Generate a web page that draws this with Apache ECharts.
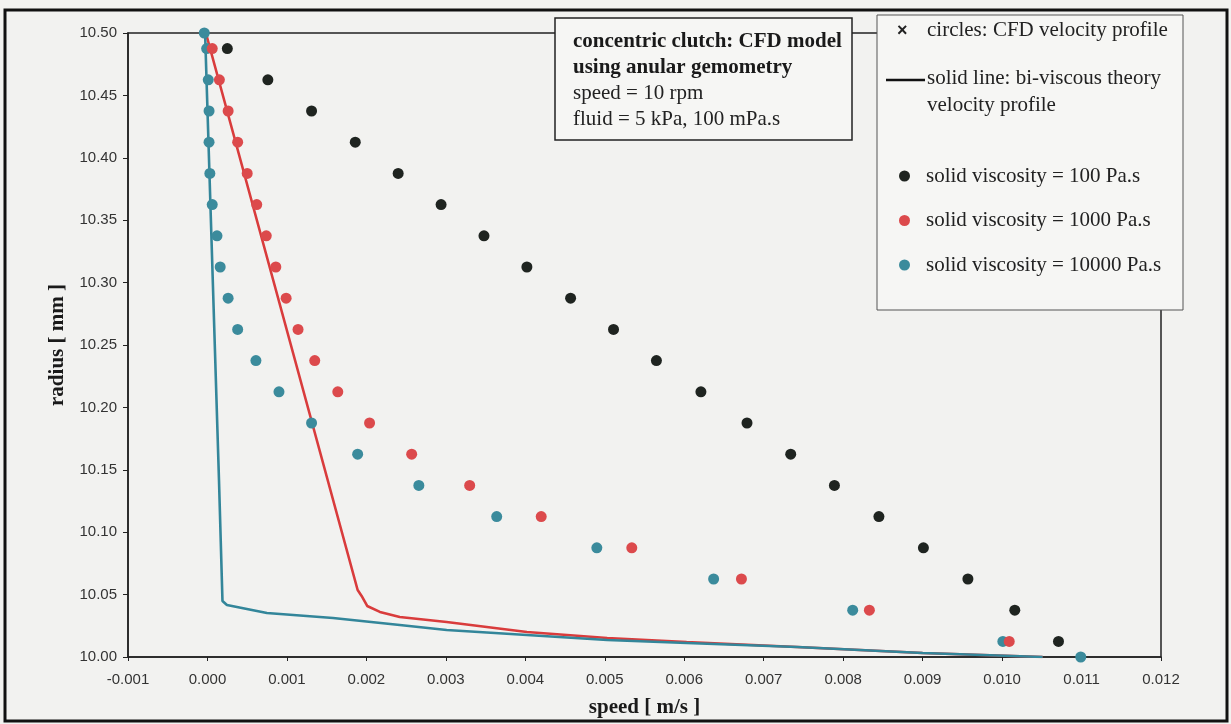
<!DOCTYPE html>
<html>
<head>
<meta charset="utf-8">
<script src="https://cdn.jsdelivr.net/npm/echarts@6/dist/echarts.min.js"></script>
<style>
html,body{margin:0;padding:0;background:#f2f2f0;}
#chart{width:1231px;height:724px;}
</style>
</head>
<body>
<div id="chart"></div>
<script>
// radii [mm] of the CFD sample points
const radii = [10.4875,10.4625,10.4375,10.4125,10.3875,10.3625,10.3375,10.3125,10.2875,10.2625,
               10.2375,10.2125,10.1875,10.1625,10.1375,10.1125,10.0875,10.0625,10.0375,10.0125];
// CFD speeds [m/s]
const cfd100 = [0.00025,0.00076,0.00131,0.00186,0.00240,0.00294,0.00348,0.00402,0.00457,0.00511,
                0.00565,0.00621,0.00679,0.00734,0.00789,0.00845,0.00901,0.00957,0.01016,0.01071];
const cfd1000 = [0.00006,0.00015,0.00026,0.00038,0.00050,0.00062,0.00074,0.00086,0.00099,0.00114,
                 0.00135,0.00164,0.00204,0.00257,0.00330,0.00420,0.00534,0.00672,0.00833,0.01009];
const radii10000 = [10.5].concat(radii).concat([10.0]);
const cfd10000 = [-0.00004,-0.00001,0.00001,0.00002,0.00002,0.00003,0.00006,0.00012,0.00016,0.00026,0.00038,
                  0.00061,0.00090,0.00131,0.00189,0.00266,0.00364,0.00490,0.00637,0.00812,0.01001,0.01099];
// bi-viscous theory profiles: radius and speed
const theory1000R = [10.5,10.0537,10.0489,10.0409,10.0361,10.0321,10.0280,10.0200,10.0152,10.0120,10.0080,10.0032,10.0];
const theory1000V = [-0.00002,0.00189,0.00194,0.00201,0.00217,0.00242,0.00301,0.00402,0.00503,0.00603,0.00742,0.00900,0.01051];
const theory10000R = [10.5,10.1418,10.0449,10.0417,10.0353,10.0313,10.0256,10.0216,10.0176,10.0136,10.0112,10.0080,10.0032,10.0];
const theory10000V = [-0.00003,0.000145,0.000189,0.000245,0.000748,0.00158,0.00242,0.00301,0.00402,0.00503,0.00603,0.00742,0.00900,0.01051];

const xTicks = {min:-0.001, max:0.012, interval:0.001};
const yTicks = {min:10.0, max:10.5, interval:0.05};

const pair = (v, r) => v.map((x, i) => [x, r[i]]);

const BLACK = '#1f2420', RED = '#dc4a4c', TEAL = '#3b8b9c';
const REDLINE = '#d93c3c', TEALLINE = '#33869a';
const serif = '"Liberation Serif","Times New Roman",serif';
const sans = '"Liberation Sans",Arial,sans-serif';

const chart = echarts.init(document.getElementById('chart'));
chart.setOption({
  backgroundColor: '#f2f2f0',
  animation: false,
  grid: {left: 128, top: 33, right: 70, bottom: 67, containLabel: false, outerBoundsMode: 'none',
         show: true, borderColor: '#222', borderWidth: 1.5, backgroundColor: 'transparent'},
  xAxis: {
    type: 'value', min: xTicks.min, max: xTicks.max, interval: xTicks.interval,
    name: 'speed [ m/s ]', nameLocation: 'middle', nameGap: 40,
    nameTextStyle: {fontFamily: serif, fontWeight: 'bold', fontSize: 21, color: '#1a1a1a'},
    axisLine: {onZero: false, lineStyle: {color: '#222', width: 1.5}},
    axisTick: {show: true, length: 4, lineStyle: {color: '#222'}},
    axisLabel: {margin: 15, color: '#333', fontFamily: sans, fontSize: 15, formatter: v => v.toFixed(3)},
    splitLine: {show: false}
  },
  yAxis: {
    type: 'value', min: yTicks.min, max: yTicks.max, interval: yTicks.interval,
    name: 'radius [ mm ]', nameLocation: 'middle', nameGap: 60,
    nameTextStyle: {fontFamily: serif, fontWeight: 'bold', fontSize: 21, color: '#1a1a1a'},
    axisLine: {onZero: false, lineStyle: {color: '#222', width: 1.5}},
    axisTick: {show: true, length: 5, lineStyle: {color: '#222'}},
    axisLabel: {margin: 11, color: '#333', fontFamily: sans, fontSize: 15, formatter: v => v.toFixed(2)},
    splitLine: {show: false}
  },
  legend: {
    data: ['solid viscosity = 100 Pa.s', 'solid viscosity = 1000 Pa.s', 'solid viscosity = 10000 Pa.s'],
    orient: 'vertical', left: 894, top: 160, itemGap: 22.5,
    itemWidth: 11, itemHeight: 11, icon: 'circle', z: 20,
    textStyle: {fontFamily: serif, fontSize: 21, color: '#222', lineHeight: 22, padding: [0, 0, 0, 11]}
  },
  series: [
    {type: 'line', name: 'theory 1000', data: pair(theory1000V, theory1000R), showSymbol: false, symbol: 'none',
     lineStyle: {color: REDLINE, width: 2.6}, z: 2},
    {type: 'line', name: 'theory 10000', data: pair(theory10000V, theory10000R), showSymbol: false, symbol: 'none',
     lineStyle: {color: TEALLINE, width: 2.6}, z: 2},
    {type: 'scatter', name: 'solid viscosity = 100 Pa.s', data: pair(cfd100, radii), symbolSize: 11,
     itemStyle: {color: BLACK, opacity: 1}, z: 3},
    {type: 'scatter', name: 'solid viscosity = 10000 Pa.s', data: pair(cfd10000, radii10000), symbolSize: 11,
     itemStyle: {color: TEAL, opacity: 1}, z: 3},
    {type: 'scatter', name: 'solid viscosity = 1000 Pa.s', data: pair(cfd1000, radii), symbolSize: 11,
     itemStyle: {color: RED, opacity: 1}, z: 3}
  ],
  graphic: [
    {type: 'rect', z: 0, silent: true, shape: {x: 5, y: 10, width: 1222, height: 711},
     style: {fill: 'none', stroke: '#111', lineWidth: 3}},
    // annotation box
    {type: 'rect', z: 10, shape: {x: 555, y: 18, width: 297, height: 122},
     style: {fill: '#f6f6f4', stroke: '#222', lineWidth: 1.5}},
    {type: 'text', z: 11, left: 573, top: 31, style: {text: 'concentric clutch: CFD model', font: 'bold 21px ' + serif, fill: '#1a1a1a'}},
    {type: 'text', z: 11, left: 573, top: 57, style: {text: 'using anular gemometry', font: 'bold 21px ' + serif, fill: '#1a1a1a'}},
    {type: 'text', z: 11, left: 573, top: 83, style: {text: 'speed = 10 rpm', font: '21px ' + serif, fill: '#222'}},
    {type: 'text', z: 11, left: 573, top: 109, style: {text: 'fluid = 5 kPa, 100 mPa.s', font: '21px ' + serif, fill: '#222'}},
    // legend box
    {type: 'rect', z: 10, shape: {x: 877, y: 15, width: 306, height: 295},
     style: {fill: '#f6f6f4', stroke: '#555', lineWidth: 1}},
    {type: 'text', z: 11, left: 897, top: 22, style: {text: '×', font: 'bold 18px ' + sans, fill: '#222'}},
    {type: 'text', z: 11, left: 927, top: 20, style: {text: 'circles: CFD velocity profile', font: '21px ' + serif, fill: '#222'}},
    {type: 'line', z: 11, shape: {x1: 886, y1: 80, x2: 925, y2: 80}, style: {stroke: '#111', lineWidth: 2.5}},
    {type: 'text', z: 11, left: 927, top: 68, style: {text: 'solid line: bi-viscous theory', font: '21px ' + serif, fill: '#222'}},
    {type: 'text', z: 11, left: 927, top: 95, style: {text: 'velocity profile', font: '21px ' + serif, fill: '#222'}}
  ]
});
</script>
</body>
</html>
